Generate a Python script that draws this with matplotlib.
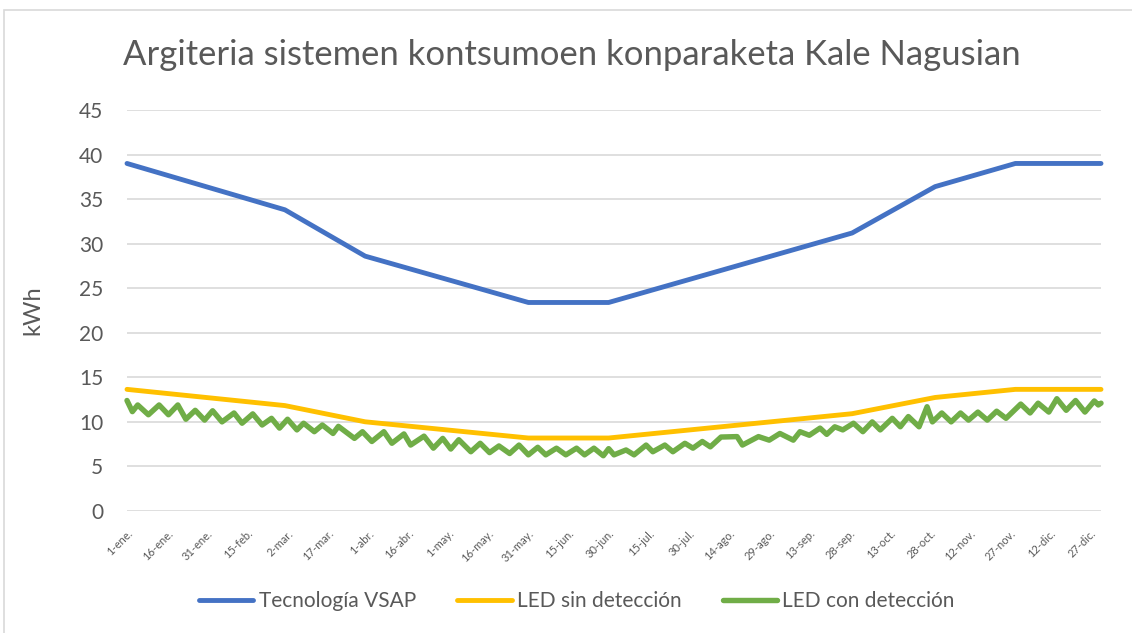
import matplotlib
matplotlib.use("Agg")
import matplotlib.pyplot as plt
from matplotlib.patches import Rectangle

plt.rcParams["font.family"] = ["Lato", "DejaVu Sans"]

# Day of the year (0 = 1 Jan) where each profile changes slope, and kWh there
vsap_days = [0, 59, 89, 150, 180, 271, 302, 332, 364]
vsap_kwh = [39.0, 33.8, 28.6, 23.4, 23.4, 31.2, 36.4, 39.0, 39.0]

led_days = [0, 59, 89, 150, 180, 271, 302, 332, 364]
led_kwh = [13.65, 11.83, 10.01, 8.19, 8.19, 10.92, 12.74, 13.65, 13.65]

# LED with presence detection: weekly peaks and dips through the year
det_days = [0, 2, 4, 8, 12, 15.5, 19, 22, 25.5, 29, 32, 35.5, 40, 43, 47, 50.5,
            54, 57, 60, 63.5, 66, 70, 73, 77, 79, 85, 88, 91.5, 96, 99, 103.5,
            106, 111, 114.5, 118, 121, 124, 128.5, 132, 135.5, 139, 143, 146.5,
            150, 153.5, 156.5, 160.5, 164, 168, 171, 174.5, 178, 180, 182,
            186.5, 189.5, 194, 196.5, 201, 204, 208.5, 211.5, 215, 218, 222,
            228, 230, 236, 240, 244, 249, 251.5, 255, 259, 261.5, 264.5, 267.5,
            271.5, 275, 278.5, 281.5, 286, 289, 292, 296, 299, 301, 304.5, 308,
            311.5, 314.5, 318, 321.5, 325, 328.5, 334, 337.5, 340.5, 344.5,
            347.5, 351, 354.5, 358, 361.5, 363, 364]
det_kwh = [12.4, 11.15, 11.9, 10.8, 11.9, 10.8, 11.9, 10.3, 11.3, 10.2, 11.25,
           10.0, 11.0, 9.85, 10.9, 9.65, 10.4, 9.3, 10.3, 9.1, 9.85, 8.9, 9.65,
           8.7, 9.5, 8.15, 8.9, 7.8, 8.9, 7.6, 8.65, 7.4, 8.4, 7.05, 8.15, 6.95,
           8.0, 6.65, 7.6, 6.55, 7.3, 6.45, 7.4, 6.3, 7.15, 6.3, 7.05, 6.3, 7.05,
           6.3, 7.05, 6.2, 7.0, 6.3, 6.85, 6.3, 7.4, 6.65, 7.4, 6.65, 7.6, 7.05,
           7.8, 7.2, 8.3, 8.35, 7.4, 8.35, 7.95, 8.7, 7.95, 8.9, 8.5, 9.3, 8.6,
           9.45, 9.1, 9.85, 8.9, 10.0, 9.1, 10.4, 9.45, 10.6, 9.45, 11.7, 10.0,
           11.0, 10.0, 11.0, 10.2, 11.1, 10.2, 11.2, 10.4, 12.0, 11.0, 12.1,
           11.1, 12.6, 11.3, 12.4, 11.1, 12.35, 11.9, 12.1]

tick_days = list(range(0, 365, 15))
tick_labels = ["1-ene.", "16-ene.", "31-ene.", "15-feb.", "2-mar.", "17-mar.",
               "1-abr.", "16-abr.", "1-may.", "16-may.", "31-may.", "15-jun.",
               "30-jun.", "15-jul.", "30-jul.", "14-ago.", "29-ago.", "13-sep.",
               "28-sep.", "13-oct.", "28-oct.", "12-nov.", "27-nov.", "12-dic.",
               "27-dic."]

series = [
    ("Tecnología VSAP", vsap_days, vsap_kwh, "#4472C4", 3.5),
    ("LED sin detección", led_days, led_kwh, "#FFC000", 3.5),
    ("LED con detección", det_days, det_kwh, "#70AD47", 3.9),
]

text_col = "#595959"
W, H = 1132, 633
fig = plt.figure(figsize=(W / 100, H / 100), dpi=100)
ax = fig.add_axes([127 / W, 1 - 511 / H, (1101 - 127) / W, (511 - 110) / H])

for name, x, y, col, lw in series:
    ax.plot(x, y, color=col, lw=lw, label=name, solid_capstyle="round",
            solid_joinstyle="round", clip_on=False, zorder=3)

ax.set_xlim(0, 364)
ax.set_ylim(0, 45)
ax.set_yticks(range(0, 50, 5))
ax.grid(axis="y", color="#D9D9D9", lw=1.2)
ax.set_axisbelow(True)
for s in ax.spines.values():
    s.set_visible(False)

ax.set_xticks(tick_days)
ax.set_xticklabels(tick_labels, rotation=45, ha="right", rotation_mode="anchor",
                   fontsize=8, color=text_col)
ax.tick_params(axis="x", length=0, pad=12)
ax.tick_params(axis="y", length=0, pad=17, labelsize=15, labelcolor=text_col)

fig.text(33 / W, 1 - 310 / H, "kWh", rotation=90, ha="center", va="center",
         fontsize=17, color=text_col)
fig.text(572 / W, 1 - 55 / H, "Argiteria sistemen kontsumoen konparaketa Kale Nagusian",
         ha="center", va="center", fontsize=24.9, color=text_col)

fig.legend(loc="center", bbox_to_anchor=(577 / W, 1 - 601 / H), ncol=3,
           frameon=False, fontsize=15, handlelength=2.6, handletextpad=0.25,
           columnspacing=2.0, labelcolor=text_col)

fig.patches.append(Rectangle((4 / W, -0.05), 1.05, 1 - 10 / H + 0.05,
                             transform=fig.transFigure, fill=False,
                             edgecolor="#D9D9D9", lw=1.2))

fig.savefig("out.png", dpi=100)
